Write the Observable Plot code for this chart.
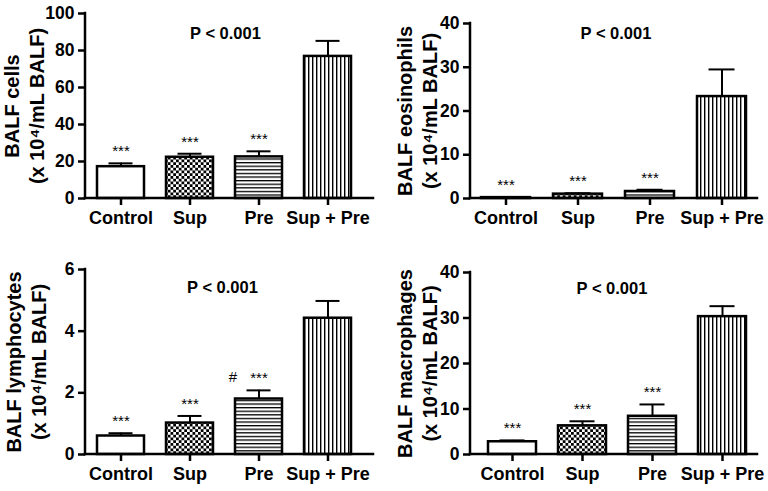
<!DOCTYPE html>
<html><head><meta charset="utf-8">
<script src="https://cdn.jsdelivr.net/npm/d3@7"></script>
<script src="https://cdn.jsdelivr.net/npm/@observablehq/plot@0.6"></script>
<style>
html,body{margin:0;padding:0;background:#fff;}
#wrap{position:relative;width:768px;height:491px;overflow:hidden;}
.panel{position:absolute;}
</style></head><body>
<svg width="0" height="0" style="position:absolute">
<defs>
<pattern id="pat-checker" patternUnits="userSpaceOnUse" width="5.5" height="5.5">
<rect width="5.5" height="5.5" fill="#fff"/>
<rect width="2.75" height="2.75" fill="#000"/>
<rect x="2.75" y="2.75" width="2.75" height="2.75" fill="#000"/>
</pattern>
<pattern id="pat-hstripe" patternUnits="userSpaceOnUse" width="4" height="3.6">
<rect width="4" height="3.6" fill="#fff"/>
<rect width="4" height="1.3" fill="#000"/>
</pattern>
<pattern id="pat-vstripe" patternUnits="userSpaceOnUse" width="4" height="4">
<rect width="4" height="4" fill="#fff"/>
<rect width="1.4" height="4" fill="#000"/>
</pattern>
</defs>
</svg>
<div id="wrap"></div>
<script>
// ---- data ----
const categories = ["Control", "Sup", "Pre", "Sup + Pre"];
const groupFills = ["#fff", "url(#pat-checker)", "url(#pat-hstripe)", "url(#pat-vstripe)"];

const cellsMean = [17.2, 22.3, 22.5, 76.8];
const cellsErrTop = [19.0, 24.2, 25.5, 85.2];

const eosMean = [0.2, 1.0, 1.6, 23.3];
const eosErrTop = [0.3, 1.2, 2.0, 29.5];

const lymphMean = [0.6, 1.02, 1.8, 4.42];
const lymphErrTop = [0.69, 1.25, 2.08, 4.98];

const macroMean = [2.8, 6.3, 8.4, 30.3];
const macroErrTop = [3.1, 7.3, 11.0, 32.6];

const starLabels = ["***", "***", "***", ""];
const hashLabels = ["", "", "#", ""];
const pLabel = "P < 0.001";

const cellsTicks = [0, 20, 40, 60, 80, 100];
const eosTicks = [0, 10, 20, 30, 40];
const lymphTicks = [0, 2, 4, 6];
const macroTicks = [0, 10, 20, 30, 40];

const unitLine = "(x 10\u2074/mL BALF)";

// ---- layout ----
const panels = [
  {left: 0, top: 0, height: 245, mt: 13, mb: 47, ml: 85, xr: [96, 352], tdx: -62,
   mean: cellsMean, err: cellsErrTop, ticks: cellsTicks, title: "BALF cells\n" + unitLine, pY: 89, pDx: -4, hash: null},
  {left: 384, top: 0, height: 245, mt: 23, mb: 47, ml: 86, xr: [97, 362], tdx: -54,
   mean: eosMean, err: eosErrTop, ticks: eosTicks, title: "BALF eosinophils\n" + unitLine, pY: 37.6, pDx: 2, hash: null},
  {left: 0, top: 245, height: 246, mt: 24, mb: 37, ml: 85, xr: [95, 352], tdx: -60,
   mean: lymphMean, err: lymphErrTop, ticks: lymphTicks, title: "BALF lymphocytes\n" + unitLine, pY: 5.4, pDx: -7, hash: hashLabels},
  {left: 384, top: 245, height: 246, mt: 27, mb: 37, ml: 86, xr: [103, 362], tdx: -54,
   mean: macroMean, err: macroErrTop, ticks: macroTicks, title: "BALF macrophages\n" + unitLine, pY: 36.5, pDx: -2, hash: null}
];

const FONT = "'Liberation Sans', Arial, Helvetica, sans-serif";

function makePanel(cfg) {
  const data = categories.map((c, i) => ({
    cat: c, mean: cfg.mean[i], err: cfg.err[i], star: starLabels[i],
    fill: groupFills[i], hash: cfg.hash ? cfg.hash[i] : ""
  }));
  const yMax = cfg.ticks[cfg.ticks.length - 1];
  const axisLines = (index, scales, values, dims) => {
    const {y} = scales;
    const g = d3.create("svg:g").attr("stroke", "#000").attr("stroke-width", 2.5).attr("stroke-linecap", "square");
    g.append("line").attr("x1", dims.marginLeft).attr("x2", dims.width - dims.marginRight)
      .attr("y1", y(0)).attr("y2", y(0));
    g.append("line").attr("x1", dims.marginLeft).attr("x2", dims.marginLeft)
      .attr("y1", y(0)).attr("y2", y(yMax));
    return g.node();
  };
  const marks = [
    Plot.ruleX(data, {x: "cat", y1: "mean", y2: "err", stroke: "#000", strokeWidth: 2}),
    Plot.tickY(data, {x: "cat", y: "err", stroke: "#000", strokeWidth: 2, insetLeft: 11.5, insetRight: 11.5}),
    Plot.barY(data, {x: "cat", y: "mean", fill: "fill", stroke: "#000", strokeWidth: 2.5, insetLeft: 0, insetRight: 0}),
    Plot.text(data, {x: "cat", y: "err", text: "star", dy: -7, lineAnchor: "bottom", fontSize: 15, fill: "#000"}),
    Plot.axisX({tickSize: 7, tickPadding: 6, fontSize: 18, fontWeight: "bold", strokeWidth: 2.5, label: null, fill: "#000"}),
    Plot.axisY({ticks: cfg.ticks, tickFormat: d => String(d), tickSize: 7, tickPadding: 4, fontSize: 17.5, fontWeight: "bold", strokeWidth: 2.5, label: null, fill: "#000"}),
    axisLines,
    Plot.text([cfg.title], {frameAnchor: "left", rotate: -90, dx: cfg.tdx, fontSize: 20, fontWeight: "bold",
      lineHeight: 1.27, textAnchor: "middle", lineAnchor: "middle", fill: "#000"}),
    Plot.text([pLabel], {y: () => cfg.pY, text: d => d, dx: cfg.pDx, fontSize: 16.5, fontWeight: "bold", fill: "#000"})
  ];
  if (cfg.hash) {
    marks.push(Plot.text(data, {x: "cat", y: "err", text: "hash", dx: -26, dy: -8, lineAnchor: "bottom", fontSize: 15, fill: "#000"}));
  }
  return Plot.plot({
    width: 384, height: cfg.height,
    marginLeft: cfg.ml, marginRight: 11, marginTop: cfg.mt, marginBottom: cfg.mb,
    style: {fontFamily: FONT, background: "transparent", overflow: "visible", color: "#000"},
    x: {domain: categories, range: cfg.xr, paddingInner: 0.32, paddingOuter: 0, axis: null},
    y: {domain: [0, yMax], axis: null},
    color: {type: "identity"},
    marks
  });
}

const wrap = document.getElementById("wrap");
for (const cfg of panels) {
  const div = document.createElement("div");
  div.className = "panel";
  div.style.left = cfg.left + "px";
  div.style.top = cfg.top + "px";
  div.appendChild(makePanel(cfg));
  wrap.appendChild(div);
}
</script>
</body></html>
